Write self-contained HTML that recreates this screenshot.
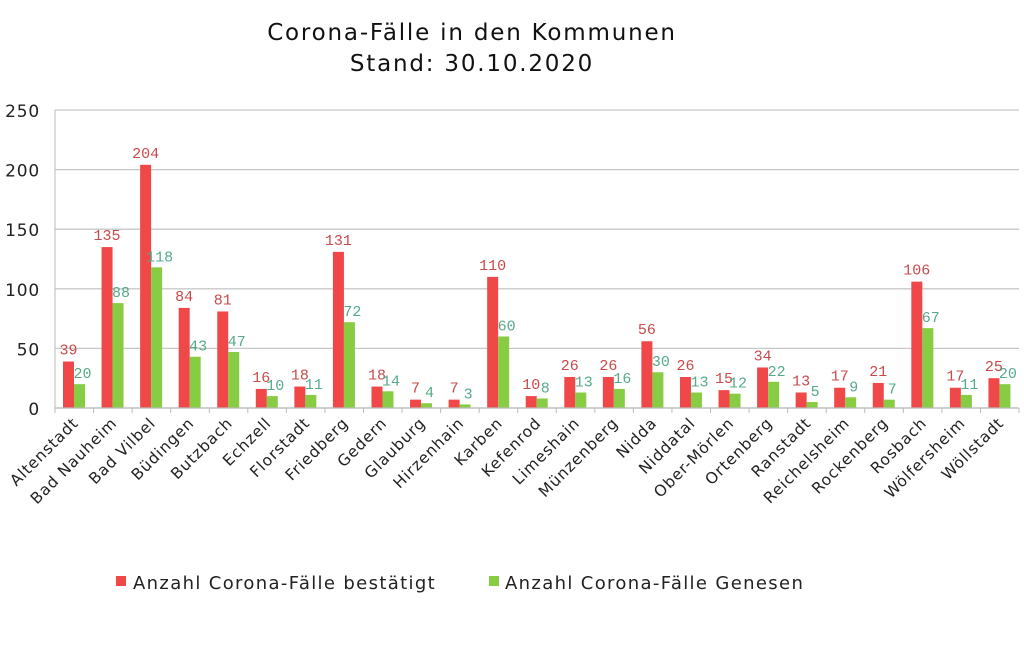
<!DOCTYPE html><html><head><meta charset="utf-8"><style>body{margin:0;background:#fff}svg{display:block}</style></head><body>
<svg width="1024" height="645" viewBox="0 0 1024 645" xmlns="http://www.w3.org/2000/svg" font-family="DejaVu Sans, sans-serif">
<text x="472" y="40" font-size="23" letter-spacing="1.8" text-anchor="middle" fill="#111">Corona-Fälle in den Kommunen</text>
<text x="472" y="71" font-size="23" letter-spacing="1.8" text-anchor="middle" fill="#111">Stand: 30.10.2020</text>
<g id="g"></g>
<rect x="116" y="576" width="10" height="10" fill="#f04848"/>
<text x="133" y="589" font-size="18" letter-spacing="1.35" fill="#222">Anzahl Corona-Fälle bestätigt</text>
<rect x="489" y="576" width="10" height="10" fill="#88cc44"/>
<text x="505" y="589" font-size="18" letter-spacing="1.35" fill="#222">Anzahl Corona-Fälle Genesen</text>
</svg>
<script>
const names=["Altenstadt","Bad Nauheim","Bad Vilbel","Büdingen","Butzbach","Echzell","Florstadt","Friedberg","Gedern","Glauburg","Hirzenhain","Karben","Kefenrod","Limeshain","Münzenberg","Nidda","Niddatal","Ober-Mörlen","Ortenberg","Ranstadt","Reichelsheim","Rockenberg","Rosbach","Wölfersheim","Wöllstadt"];
const r=[39,135,204,84,81,16,18,131,18,7,7,110,10,26,26,56,26,15,34,13,17,21,106,17,25];
const g=[20,88,118,43,47,10,11,72,14,4,3,60,8,13,16,30,13,12,22,5,9,7,67,11,20];
const x0=55,w=38.56,y0=408,k=1.192;let s="";
for(let v=0;v<=250;v+=50){const y=y0-v*k;s+=`<line x1="${x0}" x2="1019" y1="${y}" y2="${y}" stroke="#c8c8c8" stroke-width="1.3"/><text x="40" y="${y+7}" font-size="17" letter-spacing="0.8" text-anchor="end" fill="#222">${v}</text>`;}
s+=`<line x1="${x0}" x2="${x0}" y1="110" y2="${y0}" stroke="#bbb"/>`;
for(let i=0;i<=25;i++){const x=x0+i*w;s+=`<line x1="${x}" x2="${x}" y1="${y0}" y2="${y0+5}" stroke="#bbb"/>`;}
for(let i=0;i<25;i++){const x=x0+i*w+8;const hr=r[i]*k,hg=g[i]*k;
s+=`<rect x="${x}" y="${y0-hr}" width="11" height="${hr}" fill="#f04848"/><rect x="${x+11}" y="${y0-hg}" width="11" height="${hg}" fill="#88cc44"/>`;
s+=`<text x="${x+5.5}" y="${y0-hr-7}" font-size="15" font-family="Liberation Mono, monospace" text-anchor="middle" fill="#c84a4a">${r[i]}</text>`;
s+=`<text x="${x+16.5+3}" y="${y0-hg-6}" font-size="15" font-family="Liberation Mono, monospace" text-anchor="middle" fill="#55aa88">${g[i]}</text>`;
const cx=x0+i*w+w/2+5,cy=y0+16;
s+=`<text transform="translate(${cx},${cy}) rotate(-45)" font-size="15.5" letter-spacing="0.9" text-anchor="end" fill="#222">${names[i]}</text>`;}
s+=`<line x1="${x0}" x2="1019" y1="${y0}" y2="${y0}" stroke="#bbb" stroke-width="1.3"/>`;
document.getElementById("g").innerHTML=s;
</script>
</body></html>
